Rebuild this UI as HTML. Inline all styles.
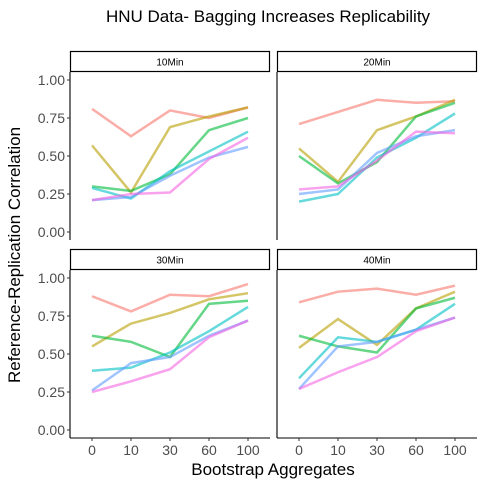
<!DOCTYPE html>
<html><head><meta charset="utf-8"><style>
body{margin:0;background:#fff;font-family:"Liberation Sans",sans-serif}
</style></head><body>
<svg id="c" width="485" height="488" xmlns="http://www.w3.org/2000/svg">
<text x="268" y="22" font-size="17" text-anchor="middle">HNU Data- Bagging Increases Replicability</text>
<text transform="translate(20,255) rotate(-90)" font-size="17" text-anchor="middle">Reference-Replication Correlation</text>
<text x="273" y="475" font-size="17" text-anchor="middle">Bootstrap Aggregates</text>
<g id="g"></g>
</svg>
<script>
const categories=["0","10","30","60","100"];
const panels=["10Min","20Min","30Min","40Min"];
const yTicks=[0,0.25,0.5,0.75,1];
const yTickLabels=["0.00","0.25","0.50","0.75","1.00"];
const colors=["#F8766D","#B79F00","#00BA38","#00BFC4","#619CFF","#F564E3"];
const p10=[[.81,.63,.80,.75,.82],[.57,.26,.69,.76,.82],[.30,.27,.38,.67,.75],[.29,.22,.40,.53,.66],[.21,.23,.37,.49,.56],[.21,.25,.26,.48,.62]];
const p20=[[.71,.79,.87,.85,.86],[.55,.33,.67,.76,.87],[.50,.32,.46,.76,.85],[.20,.25,.49,.62,.78],[.25,.28,.52,.63,.67],[.28,.30,.47,.66,.65]];
const p30=[[.88,.78,.89,.88,.96],[.55,.70,.77,.86,.90],[.62,.58,.48,.83,.85],[.39,.41,.51,.65,.81],[.26,.44,.48,.62,.72],[.25,.32,.40,.61,.72]];
const p40=[[.84,.91,.93,.89,.95],[.54,.73,.56,.80,.91],[.62,.55,.51,.80,.87],[.34,.61,.58,.66,.83],[.27,.55,.58,.66,.74],[.27,.38,.48,.65,.74]];
const series=[p10,p20,p30,p40];
const NS="http://www.w3.org/2000/svg",g=document.getElementById('g');
function mk(t,a,p){const e=document.createElementNS(NS,t);for(const k in a)e.setAttribute(k,a[k]);(p||g).appendChild(e);return e;}
const lefts=[70,277],tops=[72,270],W=200,H=168;
panels.forEach((name,i)=>{
 const L=lefts[i%2],T=tops[Math.floor(i/2)];
 const x=j=>L+22+j*(W-44)/(categories.length-1);
 const y=v=>T+H-8-v*152;
 const s=mk('rect',{x:L+0.5,y:T-20.5,width:W-1,height:20,fill:'#fff',stroke:'#000','stroke-width':1.2});
 
 
 const st=mk('text',{x:L+W/2,y:T-6.5,'font-size':10,'text-anchor':'middle'});st.textContent=name;
 
 
 const ax=mk('line',{x1:L,x2:L,y1:T,y2:T+H,stroke:'#000','stroke-width':1.1});
 
 
 if(i%2==0){yTicks.forEach((v,k)=>{
  mk('line',{x1:L-3,x2:L,y1:y(v),y2:y(v),stroke:'#333'});
  const t=mk('text',{x:L-5,y:y(v)+5,'font-size':14,'text-anchor':'end',fill:'#4d4d4d'});t.textContent=yTickLabels[k];
  
  
 });}
 if(i>=2){
  const xa=mk('line',{x1:L,x2:L+W,y1:T+H,y2:T+H,stroke:'#000','stroke-width':1.1});
  
  
  categories.forEach((c,j)=>{
   mk('line',{x1:x(j),x2:x(j),y1:T+H,y2:T+H+3,stroke:'#333'});
   const t=mk('text',{x:x(j),y:T+H+17,'font-size':14,'text-anchor':'middle',fill:'#4d4d4d'});t.textContent=c;
   
   
  });
 }
 series[i].forEach((vals,k)=>{
  const pl=mk('polyline',{points:vals.map((v,j)=>x(j)+','+y(v)).join(' '),fill:'none',stroke:colors[k],'stroke-width':2.5,'stroke-opacity':0.6});
  
  
 });
});
</script>
</body></html>
